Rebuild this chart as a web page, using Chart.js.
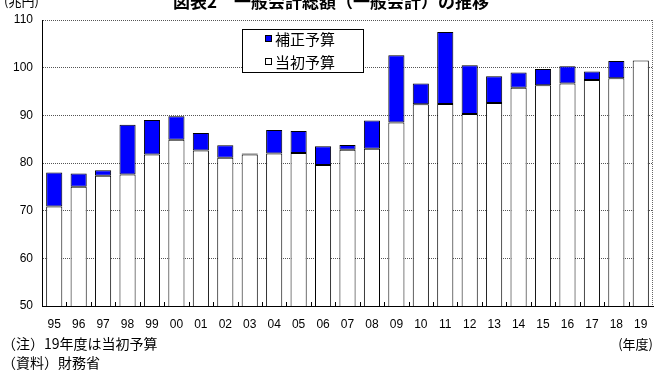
<!DOCTYPE html>
<html>
<head>
<meta charset="utf-8">
<script src="https://cdn.jsdelivr.net/npm/chart.js@4/dist/chart.umd.min.js"></script>
<style>
  html, body { margin: 0; padding: 0; background: #fff; }
  #wrap { width: 654px; height: 372px; position: relative; }
</style>
</head>
<body>
<div id="wrap"><canvas id="grafico"></canvas></div>
<script>
// datos (兆円)
const anios = ['95','96','97','98','99','00','01','02','03','04','05','06','07','08','09','10','11','12','13','14','15','16','17','18','19'];
const tousho = [70.9, 75.0, 77.3, 77.6, 81.8, 84.9, 82.6, 81.1, 81.8, 82.0, 82.1, 79.6, 82.8, 83.0, 88.5, 92.3, 92.4, 90.3, 92.6, 95.8, 96.3, 96.7, 97.4, 97.8, 101.5];
const hosei = [7.1, 2.8, 1.2, 10.4, 7.2, 4.9, 3.7, 2.6, 0.2, 4.9, 4.6, 3.9, 1.0, 5.9, 14.1, 4.4, 15.1, 10.2, 5.6, 3.2, 3.4, 3.6, 1.8, 3.6, null];
const ejeY = { min: 50, max: 110, paso: 10 };

const titulo = '図表2　一般会計総額（一般会計）の推移';
const fuenteJP = "'Noto Sans CJK JP', sans-serif";

// textos, leyenda y marcas del eje x
const extras = {
  id: 'extras',
  afterDraw(chart) {
    const ctx = chart.ctx;
    const area = chart.chartArea;
    const x = chart.scales.x;
    ctx.save();

    // borde derecho punteado
    ctx.strokeStyle = '#666';
    ctx.lineWidth = 1;
    ctx.setLineDash([1, 1]);
    ctx.beginPath();
    ctx.moveTo(area.right - 0.5, area.top);
    ctx.lineTo(area.right - 0.5, area.bottom);
    ctx.stroke();
    ctx.setLineDash([]);

    // marcas entre categorias
    ctx.strokeStyle = '#000';
    ctx.beginPath();
    for (let i = 1; i < anios.length; i++) {
      const px = Math.round((x.getPixelForValue(i - 1) + x.getPixelForValue(i)) / 2) + 0.5;
      ctx.moveTo(px, area.bottom);
      ctx.lineTo(px, area.bottom - 4);
    }
    ctx.stroke();

    // titulo y unidades
    ctx.fillStyle = '#000';
    ctx.textBaseline = 'alphabetic';
    ctx.textAlign = 'center';
    ctx.font = 'bold 17px ' + fuenteJP;
    ctx.fillText(titulo, 331, 8);
    ctx.textAlign = 'left';
    ctx.font = '13px ' + fuenteJP;
    ctx.fillText('(兆円)', 4, 6);

    // notas
    ctx.textBaseline = 'middle';
    ctx.font = '14px ' + fuenteJP;
    ctx.fillText('（注）19年度は当初予算', 2, 344);
    ctx.fillText('（資料）財務省', 2, 363);
    ctx.textAlign = 'right';
    ctx.font = '13px ' + fuenteJP;
    ctx.fillText('(年度)', 653, 344);

    // leyenda
    ctx.fillStyle = '#fff';
    ctx.fillRect(242, 29, 121, 43);
    ctx.strokeStyle = '#000';
    ctx.strokeRect(242.5, 29.5, 121, 43);
    ctx.fillStyle = '#0000ff';
    ctx.fillRect(265, 35, 7, 7);
    ctx.strokeRect(265.5, 35.5, 6, 6);
    ctx.fillStyle = '#fff';
    ctx.fillRect(265, 58, 7, 7);
    ctx.strokeRect(265.5, 58.5, 6, 6);
    ctx.fillStyle = '#000';
    ctx.textAlign = 'left';
    ctx.font = '15px ' + fuenteJP;
    ctx.fillText('補正予算', 275, 39);
    ctx.fillText('当初予算', 275, 62);
    ctx.restore();
  }
};

new Chart(document.getElementById('grafico'), {
  type: 'bar',
  data: {
    labels: anios,
    datasets: [
      {
        label: '当初予算',
        data: tousho,
        backgroundColor: '#ffffff',
        borderColor: '#000000',
        borderWidth: 1,
        borderSkipped: false
      },
      {
        label: '補正予算',
        data: hosei,
        backgroundColor: '#0000ff',
        borderColor: '#000000',
        borderWidth: 1,
        borderSkipped: false
      }
    ]
  },
  options: {
    responsive: true,
    maintainAspectRatio: false,
    animation: false,
    layout: { padding: { top: 20, right: 1, left: 0, bottom: 0 } },
    plugins: { legend: { display: false }, tooltip: { enabled: false } },
    datasets: { bar: { categoryPercentage: 1, barPercentage: 0.66 } },
    scales: {
      x: {
        stacked: true,
        grid: { display: false },
        border: { color: '#000', width: 1 },
        ticks: { color: '#000', font: { size: 12, family: 'Liberation Sans' }, padding: 3, maxRotation: 0, autoSkip: false },
        afterFit(scale) { scale.height = 66; }
      },
      y: {
        stacked: true,
        min: ejeY.min,
        max: ejeY.max,
        grid: { color: '#555', drawTicks: false },
        border: { color: '#000', width: 1, dash: [1, 1] },
        ticks: { stepSize: ejeY.paso, color: '#000', font: { size: 12, family: 'Liberation Sans' }, padding: 9 },
        afterFit(scale) { scale.width = 42; }
      }
    }
  },
  plugins: [extras]
});
</script>
</body>
</html>
